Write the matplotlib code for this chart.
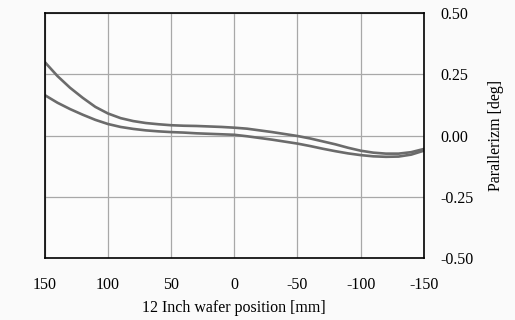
from matplotlib import pyplot as plt

plt.rcParams["font.family"] = ["Liberation Serif", "DejaVu Serif"]

# wafer position [mm] and parallelism [deg]
positions = [150, 140, 130, 120, 110, 100, 90, 80, 70, 60, 50, 40, 30, 20, 10, 0,
             -10, -20, -30, -40, -50, -60, -70, -80, -90, -100, -110, -120, -130, -140, -150]
upper = [0.300, 0.243, 0.195, 0.154, 0.117, 0.090, 0.071, 0.059, 0.051, 0.046, 0.042,
         0.040, 0.039, 0.037, 0.035, 0.032, 0.028, 0.021, 0.014, 0.006, -0.002,
         -0.012, -0.024, -0.036, -0.050, -0.062, -0.070, -0.074, -0.074, -0.068, -0.055]
lower = [0.165, 0.134, 0.108, 0.085, 0.064, 0.047, 0.035, 0.027, 0.021, 0.017, 0.014,
         0.012, 0.009, 0.007, 0.005, 0.003, -0.003, -0.010, -0.017, -0.025, -0.033,
         -0.043, -0.054, -0.064, -0.073, -0.080, -0.085, -0.087, -0.086, -0.078, -0.062]

x_ticks = [150, 100, 50, 0, -50, -100, -150]
y_ticks = [-0.50, -0.25, 0.00, 0.25, 0.50]

fig = plt.figure(figsize=(5.15, 3.2), dpi=100, facecolor="#fafafa")
ax = fig.add_axes([0.087, 0.194, 0.736, 0.765], facecolor="#fcfcfc")

ax.plot(positions, upper, color="#6b6b6b", linewidth=1.9)
ax.plot(positions, lower, color="#6b6b6b", linewidth=1.9)

ax.set_xlim(150, -150)
ax.set_ylim(-0.5, 0.5)
ax.set_xticks(x_ticks)
ax.set_xticklabels([str(t) for t in x_ticks])
ax.set_yticks(y_ticks)
ax.set_yticklabels(["%.2f" % t for t in y_ticks])

ax.grid(True, color="#a8a8a8", linewidth=0.9)
ax.set_axisbelow(True)

ax.yaxis.tick_right()
ax.yaxis.set_label_position("right")
ax.tick_params(axis="both", length=0, labelsize=11.5)
ax.tick_params(axis="y", pad=12)
ax.tick_params(axis="x", pad=13.5)
for t in ax.get_yticklabels():
    t.set_horizontalalignment("left")

for s in ax.spines.values():
    s.set_color("black")
    s.set_linewidth(1.2)

ax.set_xlabel("12 Inch wafer position [mm]", fontsize=11.5, labelpad=5)
ax.set_ylabel("Parallerizm [deg]", fontsize=11.5, labelpad=10)

plt.savefig("out.png", dpi=100, facecolor=fig.get_facecolor())
